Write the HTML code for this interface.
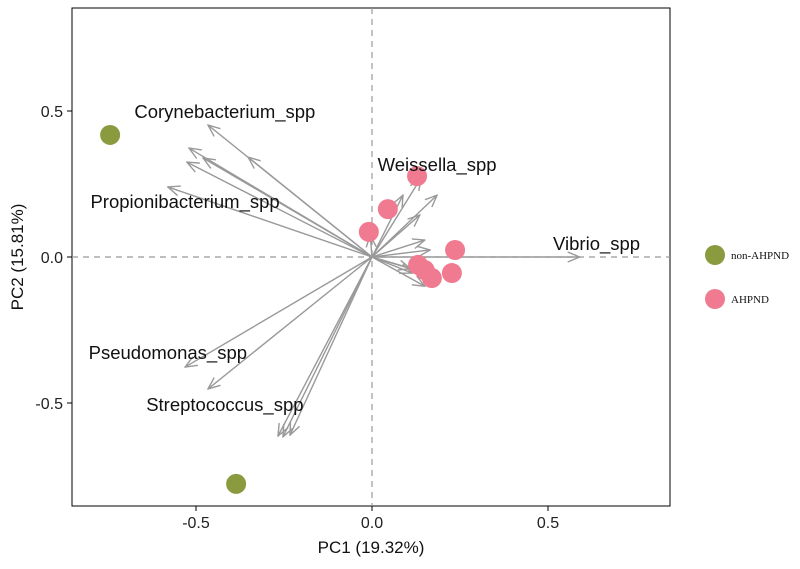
<!DOCTYPE html>
<html><head><meta charset="utf-8"><style>
body{margin:0;background:#fff}
svg text{font-family:"Liberation Sans",sans-serif}
</style></head><body>
<svg id="chart" width="800" height="564" viewBox="0 0 800 564" xmlns="http://www.w3.org/2000/svg">
<defs><marker id="ah" markerWidth="14" markerHeight="12" refX="13" refY="6" orient="auto" markerUnits="userSpaceOnUse"><path d="M1,1 L13,6 L1,11" fill="none" stroke="#999" stroke-width="1.4"/></marker></defs>
<g id="layer"></g>
</svg>
<script>
const loadX=[-0.466,-0.352,-0.52,-0.526,-0.48,-0.58,-0.531,-0.466,-0.267,-0.253,-0.233,0.59,0.139,0.185,0.088,0.136,0.15,0.165,0.114,0.17,0.15,0.11,-0.005];
const loadY=[0.452,0.342,0.373,0.325,0.339,0.24,-0.377,-0.452,-0.613,-0.616,-0.61,0,0.27,0.212,0.212,0.144,0.058,0.024,-0.055,-0.06,-0.1,-0.04,0.075];
const nonX=[-0.744,-0.386];
const nonY=[0.418,-0.777];
const ahX=[0.128,0.045,-0.009,0.236,0.227,0.17,0.131,0.15];
const ahY=[0.277,0.164,0.086,0.024,-0.055,-0.072,-0.027,-0.045];
const labelNames=["Corynebacterium_spp","Weissella_spp","Propionibacterium_spp","Vibrio_spp","Pseudomonas_spp","Streptococcus_spp"];
const labelX=[-0.418,0.185,-0.531,0.638,-0.58,-0.418];
const labelY=[0.476,0.295,0.168,0.024,-0.349,-0.527];
const xTicks=[-0.5,0,0.5];
const yTicks=[0.5,0,-0.5];
const xTickLabels=["-0.5","0.0","0.5"];
const yTickLabels=["0.5","0.0","-0.5"];

const L=72,R=670,T=8,B=506;
const sx=v=>372+v*352;
const sy=v=>257-v*292;
const g=document.getElementById('layer');
const NS='http://www.w3.org/2000/svg';
function mk(tag,attrs,name){const e=document.createElementNS(NS,tag);for(const k in attrs)e.setAttribute(k,attrs[k]);


g.appendChild(e);return e;}
mk('rect',{x:L,y:T,width:R-L,height:B-T,fill:'#fff',stroke:'#000','stroke-width':1},'plot-panel');
mk('line',{x1:L,x2:R,y1:sy(0),y2:sy(0),stroke:'#999','stroke-dasharray':'6,5','stroke-width':1.2},'zero-hline');
mk('line',{x1:sx(0),x2:sx(0),y1:T,y2:B,stroke:'#999','stroke-dasharray':'6,5','stroke-width':1.2},'zero-vline');
loadX.forEach((v,i)=>{mk('line',{x1:sx(0),y1:sy(0),x2:sx(v),y2:sy(loadY[i]),stroke:'#999','stroke-width':1.4,'marker-end':'url(#ah)'},'loading-arrow');});
nonX.forEach((v,i)=>{mk('circle',{cx:sx(v),cy:sy(nonY[i]),r:10,fill:'#8a9a3f'},'point-non-ahpnd');});
ahX.forEach((v,i)=>{mk('circle',{cx:sx(v),cy:sy(ahY[i]),r:10,fill:'#f07b90'},'point-ahpnd');});
labelNames.forEach((s,i)=>{const t=mk('text',{x:sx(labelX[i]),y:sy(labelY[i]),'font-size':18.5,fill:'#111','text-anchor':'middle'},'loading-label');t.textContent=s;});
xTicks.forEach((v,i)=>{mk('line',{x1:sx(v),x2:sx(v),y1:B,y2:B+5,stroke:'#000'},'x-tick');
const t=mk('text',{x:sx(v),y:B+22,'font-size':16,'text-anchor':'middle',fill:'#222'},'x-tick-label');t.textContent=xTickLabels[i];});
yTicks.forEach((v,i)=>{mk('line',{x1:L-5,x2:L,y1:sy(v),y2:sy(v),stroke:'#000'},'y-tick');
const t=mk('text',{x:L-9,y:sy(v)+6,'font-size':16,'text-anchor':'end',fill:'#222'},'y-tick-label');t.textContent=yTickLabels[i];});
let t=mk('text',{x:371,y:553,'font-size':17,'text-anchor':'middle',fill:'#111'},'x-axis-title');t.textContent='PC1 (19.32%)';
t=mk('text',{x:0,y:0,'font-size':17,'text-anchor':'middle',fill:'#111',transform:'translate(23,257) rotate(-90)'},'y-axis-title');t.textContent='PC2 (15.81%)';
mk('circle',{cx:715,cy:255,r:10,fill:'#8a9a3f'},'legend-key-non-ahpnd');
t=mk('text',{x:731,y:259,'font-size':11,style:'font-family:"Liberation Serif",serif',fill:'#111'},'legend-label-non-ahpnd');t.textContent='non-AHPND';
mk('circle',{cx:715,cy:299,r:10,fill:'#f07b90'},'legend-key-ahpnd');
t=mk('text',{x:731,y:303,'font-size':11,style:'font-family:"Liberation Serif",serif',fill:'#111'},'legend-label-ahpnd');t.textContent='AHPND';
</script>
</body></html>
